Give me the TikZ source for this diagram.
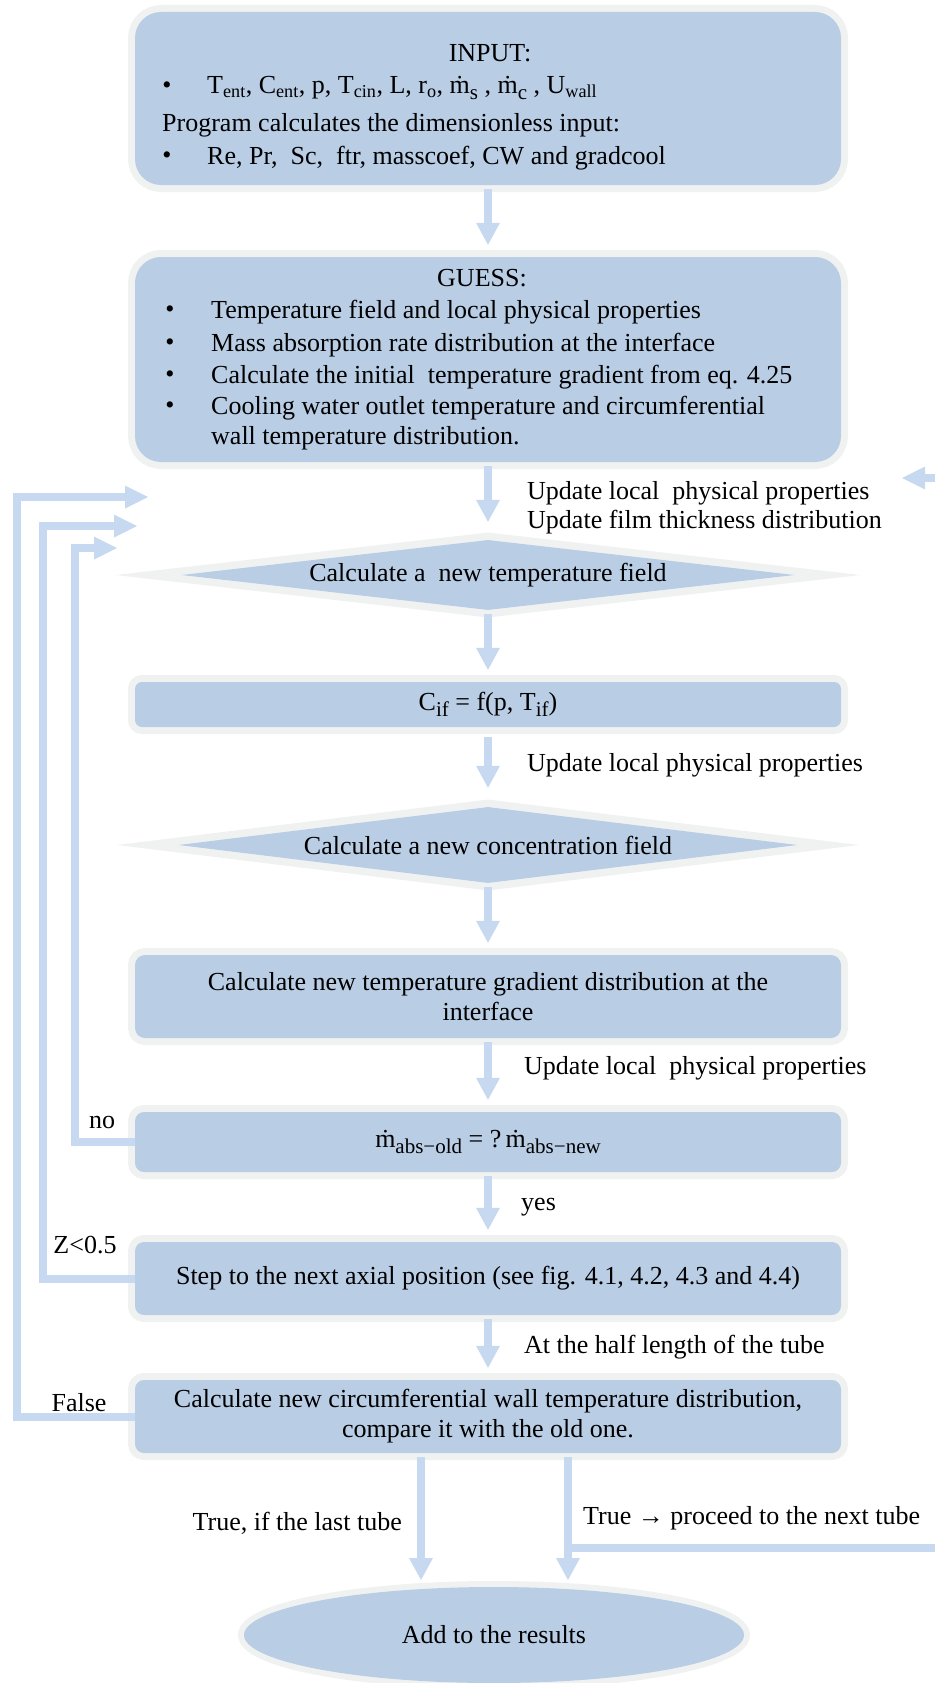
\documentclass[tikz,border=0pt]{standalone}
\usepackage{fontspec}
\setmainfont{Liberation Serif}
\usetikzlibrary{arrows.meta, shapes.geometric}
\definecolor{cfill}{RGB}{185,205,229}
\definecolor{cglow}{RGB}{240,242,242}
\definecolor{carrow}{RGB}{198,217,240}
\newcommand{\lowsub}[1]{\raisebox{-0.45ex}{\fontsize{21}{21}\selectfont #1}}
\newcommand{\massdot}{\.{m}}
\tikzset{
  box/.style={fill=cfill, rounded corners=#1, minimum width=706pt, align=center, inner sep=0pt,
    preaction={draw=cglow, line width=14pt}},
  box/.default=9pt,
  dia/.style={diamond, fill=cfill, aspect=8.8, inner sep=0pt,
    preaction={draw=cglow, line width=15pt, miter limit=12}},
  flow/.style={draw=carrow, line width=8pt, shorten <=4pt, shorten >=12pt,
    -{Triangle[width=24pt, length=22pt, line width=0pt]}},
  loopback/.style={draw=carrow, line width=8pt, line join=miter,
    -{Triangle[width=23pt, length=23pt, line width=0pt]}},
  link/.style={draw=carrow, line width=8pt},
  lbl/.style={anchor=west, inner sep=0pt},
}

\begin{document}
\begin{tikzpicture}[x=1pt, y=-1pt, every node/.append style={font=\fontsize{26}{30}\selectfont}]
  \useasboundingbox (0,0) rectangle (934,1683);
  % main column
  \node[box=26pt, minimum height=173pt] (inp) at (488,98.5) {};
  \node[box=26pt, minimum height=205pt] (guess) at (488,359.5) {};
  \node[dia, minimum width=613pt, minimum height=70pt] (temp) at (488,575) {Calculate a\ \ new temperature field};
  \node[box=7pt, minimum height=45pt] (cif) at (488,704.5) {C\lowsub{if} = f(p, T\lowsub{if})};
  \node[dia, minimum width=619pt, minimum height=76pt] (conc) at (488,845) {Calculate a new concentration field};
  \node[box=10pt, minimum height=83pt] (grad) at (488,996.5) {Calculate new temperature gradient distribution at the\\interface};
  \node[box, minimum height=60pt] (mabs) at (488,1142) {\massdot\lowsub{abs−old} = ?\,\massdot\lowsub{abs−new}};
  \node[box, minimum height=73pt] (axial) at (488,1278.5) {Step to the next axial position (see fig. 4.1, 4.2, 4.3 and 4.4)};
  \node[box, minimum height=73pt] (circ) at (488,1416.5) {Calculate new circumferential wall temperature distribution,\\compare it with the old one.};
  \node[ellipse, fill=cfill, minimum width=500pt, minimum height=96pt,
    preaction={draw=cglow, line width=12pt}] (res) at (494,1635) {Add to the results};

  % input text
  \node (inpT) at (490,53) {INPUT:};
  \node (ib1) at (167,88) {•};
  \node[lbl] (it1) at (207,88) {T\textsubscript{ent}, C\textsubscript{ent}, p, T\textsubscript{cin}, L, r\textsubscript{o}, \massdot\lowsub{s} , \massdot\lowsub{c} , U\textsubscript{wall}};
  \node[lbl] (prog) at (162,125) {Program calculates the dimensionless input:};
  \node (ib2) at (167,158) {•};
  \node[lbl] (it2) at (207,158) {Re, Pr,\ \ Sc,\ \ ftr, masscoef, CW and gradcool};

  % guess text
  \node (guessT) at (482,278) {GUESS:};
  \foreach \y/\t [count=\i] in {312/{Temperature field and local physical properties},
      345/{Mass absorption rate distribution at the interface},
      377/{Calculate the initial\ \ temperature gradient from eq. 4.25},
      408/{Cooling water outlet temperature and circumferential}} {
    \node (gb\i) at (170,\y) {•};
    \node[lbl] (gt\i) at (211,\y) {\t};
  }
  \node[lbl] (gt5) at (211,438) {wall temperature distribution.};

  % labels
  \node[lbl] (upd1) at (527,493) {Update local\ \ physical properties};
  \node[lbl] (upd2) at (527,522) {Update film thickness distribution};
  \node[lbl] (upd3) at (527,765) {Update local physical properties};
  \node[lbl] (upd4) at (524,1068) {Update local\ \ physical properties};
  \node[lbl] (yes) at (521,1207) {yes};
  \node[lbl] (half) at (524,1347) {At the half length of the tube};
  \node (no) at (102,1122) {no};
  \node (zlim) at (85,1245) {Z<0.5};
  \node (false) at (79,1403) {False};
  \node[anchor=east, inner sep=0pt] (last) at (402,1523) {True, if the last tube};
  \node[lbl] (next) at (583,1518) {True → proceed to the next tube};

  % arrows down the column
  \draw[flow] (inp) -- (guess);
  \draw[flow, shorten >=18pt] (guess) -- (temp);
  \draw[flow] (temp) -- (cif);
  \draw[flow, shorten <=10pt, shorten >=19pt] (cif) -- (conc);
  \draw[flow] (conc) -- (grad);
  \draw[flow] (grad) -- (mabs);
  \draw[flow] (mabs) -- (axial);
  \draw[flow] (axial) -- (circ);

  % two exits of the comparison
  \coordinate (inL) at (421,1580);
  \coordinate (inR) at (568,1580);
  \draw[flow, shorten >=0pt] (circ.south -| inL) -- (inL);
  \draw[flow, shorten >=0pt] (circ.south -| inR) -- (inR);
  \coordinate (jR) at (568,1548);
  \coordinate (outR) at (950,1548);
  \draw[link] (jR) -- (outR);
  \coordinate (backR) at (950,478);
  \coordinate (tipR) at (902,478);
  \draw[loopback] (backR) -- (tipR);

  % loops on the left
  \coordinate (kNo) at (75,548);  \coordinate (tNo) at (117,548);
  \coordinate (kZ) at (43,526);   \coordinate (tZ) at (137,526);
  \coordinate (kF) at (17,497);   \coordinate (tF) at (148,497);
  \foreach \n/\k/\t in {mabs/kNo/tNo, axial/kZ/tZ, circ/kF/tF}
    \draw[loopback] (\n.west) -| (\k) -- (\t);
\end{tikzpicture}
\end{document}
